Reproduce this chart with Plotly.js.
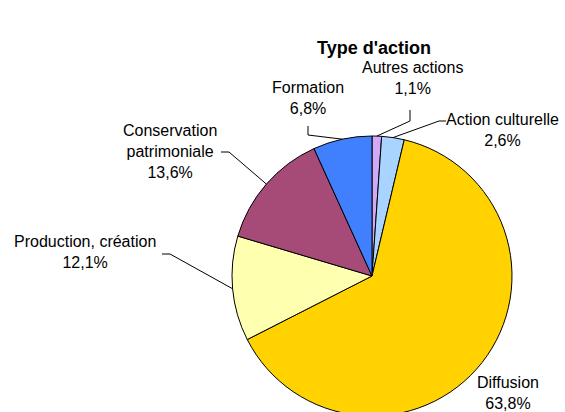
<!DOCTYPE html>
<html>
<head>
<meta charset="utf-8">
<script src="https://cdn.plot.ly/plotly-3.0.1.min.js"></script>
<style>html,body{margin:0;padding:0;background:#fff;overflow:hidden;}#wrap{width:565px;height:412px;overflow:hidden;}</style>
</head>
<body>
<div id="wrap"><div id="chart"></div></div>
<script>
var categories = ["Autres actions", "Action culturelle", "Diffusion", "Production, création", "Conservation patrimoniale", "Formation"];
var labelLines = ["Autres actions", "Action culturelle", "Diffusion", "Production, création", "Conservation<br>patrimoniale", "Formation"];
var values = [1.1, 2.6, 63.8, 12.1, 13.6, 6.8];
var valueLabels = ["1,1%", "2,6%", "63,8%", "12,1%", "13,6%", "6,8%"];
var colors = ["#D2A8F8", "#A8D4FF", "#FFD200", "#FFFFB0", "#A64A78", "#4080FF"];

var W = 565, H = 416;
var cx = 372, cy = 276, R = 140;
var M = {l: cx - R, r: W - (cx + R), t: cy - R, b: H - (cy + R)};
var pw = W - M.l - M.r, ph = H - M.t - M.b;
function px(x) { return (x - M.l) / pw; }
function py(y) { return (H - M.b - y) / ph; }

// label placement (pixel centres) and leader-line elbows
var place = [
  {x: 412, y: 78, line: [[410, 110], [410, 121]]},
  {x: 502, y: 130, line: [[446, 121], [439, 121]]},
  {x: 508, y: 393, line: null},
  {x: 85, y: 252, line: [[162, 254], [170, 254]]},
  {x: 170, y: 151, line: [[221, 152], [229, 152]]},
  {x: 308, y: 98, line: [[308, 126], [308, 135]]}
];

var total = values.reduce(function (a, b) { return a + b; }, 0);
var annotations = [{
  text: "<b>Type d'action</b>", xref: "paper", yref: "paper",
  x: px(374), y: py(48), showarrow: false, xanchor: "center", yanchor: "middle",
  font: {family: "Liberation Sans, Arial, sans-serif", size: 18, color: "#000"}
}];
var shapes = [];
var cum = 0;
for (var i = 0; i < values.length; i++) {
  var mid = (cum + values[i] / 2) / total * 2 * Math.PI;
  cum += values[i];
  var p = place[i];
  annotations.push({
    text: labelLines[i] + "<br>" + valueLabels[i], xref: "paper", yref: "paper",
    x: px(p.x), y: py(p.y), showarrow: false, xanchor: "center", yanchor: "middle",
    align: "center",
    font: {family: "Liberation Sans, Arial, sans-serif", size: 16, color: "#000"}
  });
  if (p.line) {
    var ex = cx + R * Math.sin(mid), ey = cy - R * Math.cos(mid);
    var pts = p.line.concat([[ex, ey]]);
    var d = pts.map(function (q, k) { return (k ? "L" : "M") + px(q[0]) + "," + py(q[1]); }).join(" ");
    shapes.push({type: "path", xref: "paper", yref: "paper", path: d, line: {color: "#000", width: 1}});
  }
}

var trace = {
  type: "pie",
  labels: categories,
  values: values,
  sort: false,
  direction: "clockwise",
  rotation: 0,
  textinfo: "none",
  hoverinfo: "label+percent",
  marker: {colors: colors, line: {color: "#000", width: 1}},
  showlegend: false
};

var layout = {
  width: W, height: H,
  margin: {l: M.l, r: M.r, t: M.t, b: M.b, pad: 0, autoexpand: false},
  paper_bgcolor: "#fff", plot_bgcolor: "#fff",
  showlegend: false,
  annotations: annotations,
  shapes: shapes
};

Plotly.newPlot("chart", [trace], layout, {displayModeBar: false, staticPlot: true});
</script>
</body>
</html>
